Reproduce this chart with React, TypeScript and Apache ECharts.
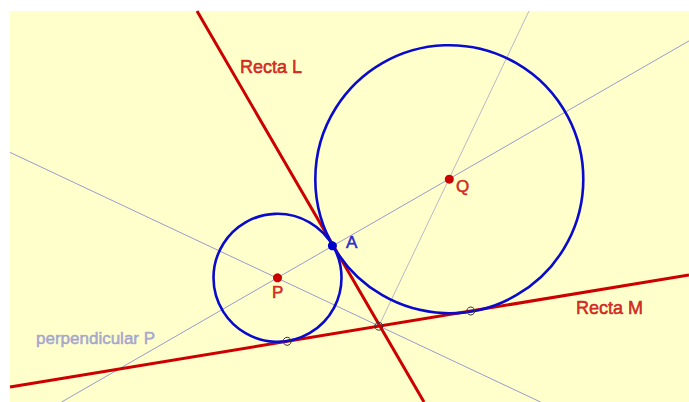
import React, { useEffect, useRef } from "react";
import * as echarts from "echarts";

// Points (pixel-like coordinate system of the figure)
const pointNames = ["P", "Q", "A"];
const pointX = [277.5, 449.3, 332.4];
const pointY = [277.8, 179.2, 245.8];
const pointColors = ["#CC0000", "#CC0000", "#0000CC"];

// Circles: center x, center y, radius
const circleCx = [277.5, 449.3];
const circleCy = [277.8, 179.2];
const circleR = [64, 134];

// Red lines (Recta L, Recta M): endpoints
const redLineX1 = [197, 10];
const redLineY1 = [11, 387];
const redLineX2 = [424, 689];
const redLineY2 = [402, 275];

// Thin auxiliary lines: endpoints
const auxLineX1 = [61.6, 10, 378.8];
const auxLineY1 = [402, 152.4, 326.2];
const auxLineX2 = [689, 540.5, 529];
const auxLineY2 = [40.9, 402, 11];
const auxColors = ["#9A9ACC", "#9A9ACC", "#B8B8C8"];

// Hollow markers (tangent points & intersection)
const markX = [287.2, 470.8, 378.8];
const markY = [341.3, 311.0, 326.2];

// Text labels
const labelTexts = ["Recta L", "Recta M", "perpendicular P", "P", "A", "Q"];
const labelX = [240, 576, 36, 272, 346, 456];
const labelY = [67, 308, 338, 292, 242.5, 186.5];
const labelColors = ["#CC0000", "#CC0000", "#9999CC", "#CC0000", "#0000CC", "#CC0000"];
const labelSizes = [18, 18, 17, 17, 17, 17];

export default function App() {
  const ref = useRef<HTMLDivElement>(null);
  useEffect(() => {
    if (!ref.current) return;
    const chart = echarts.init(ref.current, undefined, { renderer: "svg" });
    const series: any[] = [];
    auxLineX1.forEach((_, i) => {
      series.push({
        type: "line",
        z: 2,
        data: [
          [auxLineX1[i], auxLineY1[i]],
          [auxLineX2[i], auxLineY2[i]],
        ],
        showSymbol: false,
        lineStyle: { color: auxColors[i], width: 1 },
        silent: true,
      });
    });
    redLineX1.forEach((_, i) => {
      series.push({
        type: "line",
        z: 3,
        data: [
          [redLineX1[i], redLineY1[i]],
          [redLineX2[i], redLineY2[i]],
        ],
        showSymbol: false,
        lineStyle: { color: "#CC0000", width: 3 },
        silent: true,
      });
    });
    series.push({
      type: "custom",
      z: 4,
      data: circleCx.map((cx, i) => [cx, circleCy[i], circleR[i]]),
      renderItem: (params: any, api: any) => {
        const c = api.coord([api.value(0), api.value(1)]);
        const r = api.size([api.value(2), 0])[0];
        return {
          type: "circle",
          shape: { cx: c[0], cy: c[1], r },
          style: { fill: "none", stroke: "#0A0ACC", lineWidth: 2.6 },
        };
      },
      silent: true,
    });
    series.push({
      type: "scatter",
      z: 5,
      data: markX.map((x, i) => [x, markY[i]]),
      symbol: "circle",
      symbolSize: 8,
      itemStyle: { color: "rgba(0,0,0,0)", borderColor: "#333333", borderWidth: 1, opacity: 1 },
      silent: true,
    });
    series.push({
      type: "scatter",
      z: 6,
      data: pointNames.map((n, i) => ({
        name: n,
        value: [pointX[i], pointY[i]],
        itemStyle: { color: pointColors[i], opacity: 1 },
      })),
      symbol: "circle",
      symbolSize: 9,
      itemStyle: { opacity: 1, borderWidth: 0 },
      silent: true,
    });
    series.push({
      type: "scatter",
      z: 7,
      data: labelTexts.map((t, i) => ({
        name: t,
        value: [labelX[i], labelY[i]],
        label: {
          show: true,
          formatter: t,
          position: "inside",
          align: "left",
          verticalAlign: "middle",
          color: labelColors[i],
          fontSize: labelSizes[i],
          fontFamily: "Liberation Sans, Arial, sans-serif",
          textBorderColor: labelColors[i],
          textBorderWidth: 0.6,
        },
      })),
      symbolSize: 0,
      itemStyle: { color: "rgba(0,0,0,0)" },
      silent: true,
    });

    chart.setOption({
      animation: false,
      grid: {
        left: 10,
        top: 11,
        right: 0,
        bottom: 0,
        show: true,
        backgroundColor: "#FFFFCC",
        borderWidth: 0,
      },
      xAxis: { type: "value", min: 10, max: 689, show: false },
      yAxis: { type: "value", min: 11, max: 402, inverse: true, show: false },
      series,
    });
    return () => chart.dispose();
  }, []);
  return (
    <div
      ref={ref}
      style={{ position: "absolute", left: 0, top: 0, width: 689, height: 402, background: "#FFFFFF" }}
    />
  );
}
